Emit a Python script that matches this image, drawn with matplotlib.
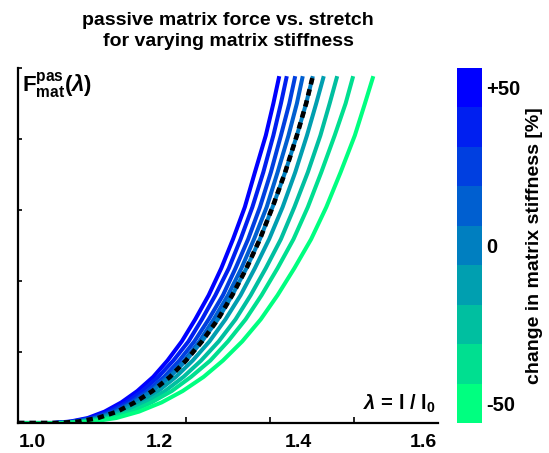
import numpy as np
import matplotlib
matplotlib.use("Agg")
import matplotlib.pyplot as plt
from matplotlib.colors import BoundaryNorm, ListedColormap, Normalize
from matplotlib.cm import ScalarMappable

plt.rcParams['font.family'] = ['Liberation Sans', 'DejaVu Sans']
plt.rcParams['font.weight'] = 'bold'
plt.rcParams['mathtext.fontset'] = 'custom'
plt.rcParams['mathtext.rm'] = 'Liberation Sans:bold'
plt.rcParams['mathtext.bf'] = 'Liberation Sans:bold'
plt.rcParams['mathtext.it'] = 'Liberation Sans:bold:italic'

# change in matrix stiffness [%] for each curve (columns of the table below)
stiffness = [50, 37.5, 25, 12.5, 0, -12.5, -25, -37.5, -50]

# normalised passive matrix force levels and the stretch where each curve reaches them
force = [0.0, 0.0, 0.004, 0.014, 0.032, 0.058, 0.09, 0.13, 0.176, 0.23, 0.292,
         0.36, 0.436, 0.518, 0.608, 0.706, 0.81, 0.9, 0.977]
stretch = [
    [1.000, 1.000, 1.000, 1.000, 1.000, 1.000, 1.000, 1.000, 1.000],
    [1.040, 1.042, 1.044, 1.046, 1.048, 1.050, 1.053, 1.056, 1.060],
    [1.062, 1.065, 1.068, 1.070, 1.072, 1.075, 1.079, 1.083, 1.089],
    [1.083, 1.087, 1.090, 1.093, 1.095, 1.099, 1.104, 1.109, 1.117],
    [1.103, 1.108, 1.112, 1.116, 1.118, 1.122, 1.129, 1.135, 1.144],
    [1.123, 1.129, 1.134, 1.137, 1.139, 1.145, 1.152, 1.159, 1.171],
    [1.142, 1.148, 1.154, 1.158, 1.160, 1.167, 1.175, 1.183, 1.196],
    [1.161, 1.167, 1.174, 1.178, 1.181, 1.188, 1.197, 1.206, 1.221],
    [1.178, 1.185, 1.192, 1.198, 1.200, 1.208, 1.218, 1.229, 1.244],
    [1.195, 1.203, 1.210, 1.216, 1.219, 1.228, 1.239, 1.250, 1.267],
    [1.211, 1.219, 1.227, 1.233, 1.238, 1.247, 1.259, 1.271, 1.289],
    [1.227, 1.235, 1.244, 1.250, 1.255, 1.265, 1.277, 1.290, 1.309],
    [1.242, 1.251, 1.259, 1.266, 1.272, 1.282, 1.295, 1.309, 1.329],
    [1.256, 1.265, 1.274, 1.281, 1.288, 1.299, 1.313, 1.328, 1.349],
    [1.270, 1.279, 1.288, 1.296, 1.303, 1.315, 1.329, 1.345, 1.367],
    [1.282, 1.292, 1.301, 1.309, 1.318, 1.330, 1.345, 1.361, 1.384],
    [1.295, 1.304, 1.313, 1.322, 1.332, 1.344, 1.360, 1.377, 1.401],
    [1.304, 1.313, 1.323, 1.332, 1.343, 1.355, 1.371, 1.390, 1.413],
    [1.311, 1.320, 1.330, 1.339, 1.351, 1.364, 1.380, 1.399, 1.423],
]

xtick_pos = [1.0167, 1.168, 1.3333, 1.482]
xtick_labels = ['1.0', '1.2', '1.4', '1.6']
xtick_marks = [1.1, 1.2, 1.3, 1.4]
ytick_marks = [0.2, 0.4, 0.6, 0.8, 1.0]
cbar_ticks = [-50, 0, 50]
cbar_labels = ['-50', '0', '+50']

stretch = np.array(stretch)
W, H = 549, 453
fig = plt.figure(figsize=(W / 100, H / 100), dpi=100)
ax = fig.add_axes([18 / W, 30 / H, 420 / W, 355 / H])
cax = fig.add_axes([457 / W, 30 / H, 25 / W, 355 / H])

cmap = plt.cm.winter_r
norm = Normalize(-50, 50)
for i, p in enumerate(stiffness):
    ax.plot(stretch[:, i], force, color=cmap(norm(p)), lw=2.9,
            solid_capstyle='butt', solid_joinstyle='round', zorder=2)
i0 = stiffness.index(0)
ax.plot(stretch[:, i0], force, color='black', lw=3.3, dashes=(1.4, 1.1), zorder=3)

ax.set_xlim(1.0, 1.5)
ax.set_ylim(0, 1.0)
for s in ['top', 'right']:
    ax.spines[s].set_visible(False)
for s in ['left', 'bottom']:
    ax.spines[s].set_linewidth(1.6)
ax.set_xticks(xtick_pos, xtick_labels)
ax.set_xticks(xtick_marks, minor=True)
ax.set_yticks(ytick_marks)
ax.set_yticklabels([])
ax.tick_params(axis='x', which='major', length=0, pad=8, labelsize=14)
ax.tick_params(axis='x', which='minor', direction='in', length=4, width=1.2)
ax.tick_params(axis='y', direction='in', length=3, width=1.2)

ax.text(0.01, 0.95, r'$\mathbf{F^{pas}_{mat}}(\lambda)$', transform=ax.transAxes,
        ha='left', va='center', fontsize=16)
ax.text(0.995, 0.055, r'$\lambda$ = l / l$_\mathbf{0}$', transform=ax.transAxes,
        ha='right', va='center', fontsize=14.5, fontweight='bold')

ax.set_title('passive matrix force vs. stretch\nfor varying matrix stiffness',
             fontsize=14, fontweight='bold', pad=16, linespacing=1.3)

# discrete colorbar, one block per stiffness level
levels = sorted(stiffness)
bounds = np.concatenate([[levels[0] - 6.25], np.array(levels) + 6.25])
cmap_d = ListedColormap([cmap(norm(v)) for v in levels])
sm = ScalarMappable(norm=BoundaryNorm(bounds, cmap_d.N), cmap=cmap_d)
cb = fig.colorbar(sm, cax=cax, ticks=cbar_ticks)
cb.outline.set_visible(False)
cb.ax.minorticks_off()
cb.ax.set_yticklabels(cbar_labels, fontsize=14.5, fontweight='bold')
cb.ax.tick_params(length=0, pad=3)
cb.set_label('change in matrix stiffness [%]', fontsize=14, fontweight='bold', labelpad=4)

fig.savefig('out.png', dpi=100)
